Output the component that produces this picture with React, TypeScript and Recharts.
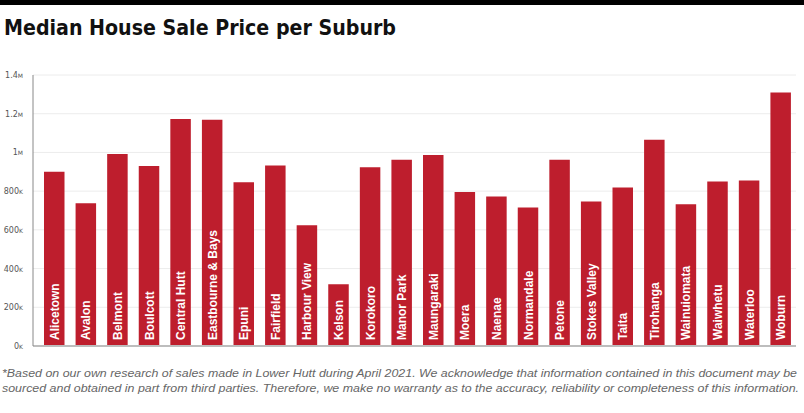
import React from 'react';
import { BarChart, Bar, XAxis, YAxis, CartesianGrid, LabelList } from 'recharts';

const suburbs = [
    'Alicetown', 'Avalon', 'Belmont', 'Boulcott', 'Central Hutt', 'Eastbourne & Bays',
    'Epuni', 'Fairfield', 'Harbour View', 'Kelson', 'Korokoro', 'Manor Park',
    'Maungaraki', 'Moera', 'Naenae', 'Normandale', 'Petone', 'Stokes Valley',
    'Taita', 'Tirohanga', 'Wainuiomata', 'Waiwhetu', 'Waterloo', 'Woburn',
];

const medianPrices = [
    900000, 737000, 992000, 930000, 1173000, 1169000,
    846000, 933000, 624000, 319000, 924000, 962000,
    987000, 796000, 772000, 716000, 962000, 747000,
    819000, 1065000, 732000, 850000, 855000, 1310000,
];

const yTicks = [0, 200000, 400000, 600000, 800000, 1000000, 1200000, 1400000];

const data = suburbs.map((name, i) => ({ name, price: medianPrices[i] }));

const BAR_RED = '#be1e2d';

const YTick = ({ x, y, payload }: any) => {
    const v = payload.value as number;
    const num = v >= 1000000 ? String(v / 1000000) : String(v / 1000);
    const unit = v >= 1000000 ? 'M' : 'K';
    return (
        <text x={x - 2} y={y + 3} textAnchor='end' fill='#555' fontFamily='"DejaVu Sans", sans-serif' fontSize={8}>
            {num}
            <tspan fontSize={6}>{unit}</tspan>
        </text>
    );
};

const BarName = ({ x, y, width, height, value }: any) => {
    const cx = x + width / 2 + 4.5;
    const by = y + height - 6;
    return (
        <text
            x={cx}
            y={by}
            transform={`rotate(-90 ${cx} ${by})`}
            fill='#fff'
            fontFamily='"Liberation Sans", Arial, sans-serif'
            fontWeight='bold'
            fontSize={12}
        >
            {value}
        </text>
    );
};

export default function App() {
    return (
        <div style={{ position: 'absolute', left: 0, top: 0, width: 804, height: 413, background: '#fff' }}>
            <BarChart width={804} height={413} data={data} margin={{ top: 75, right: 8, bottom: 66, left: 0 }} barSize={20.5}>
                <CartesianGrid vertical={false} stroke='#ececec' />
                <XAxis dataKey='name' tick={false} height={1} padding={{ left: 5, right: 0 }} axisLine={{ stroke: '#bdbdbd', strokeWidth: 2 }} tickLine={false} />
                <YAxis
                    width={33}
                    domain={[0, 1400000]}
                    ticks={yTicks}
                    tick={<YTick />}
                    tickLine={false}
                    axisLine={{ stroke: '#888' }}
                />
                <Bar dataKey='price' fill={BAR_RED} isAnimationActive={false}>
                    <LabelList dataKey='name' content={<BarName />} />
                </Bar>
            </BarChart>
            <svg width={804} height={413} style={{ position: 'absolute', left: 0, top: 0, pointerEvents: 'none' }}>
                <rect x={0} y={0} width={804} height={5} fill='#000' />
                <text
                    x={4}
                    y={35}
                    textLength={392}
                    lengthAdjust='spacingAndGlyphs'
                    fontFamily='"DejaVu Sans Condensed", "DejaVu Sans", sans-serif'
                    fontWeight='bold'
                    fontSize={21}
                    fill='#111'
                >
                    Median House Sale Price per Suburb
                </text>
                <text
                    x={2}
                    y={377}
                    textLength={795}
                    lengthAdjust='spacingAndGlyphs'
                    fontFamily='"Liberation Sans", Arial, sans-serif'
                    fontStyle='italic'
                    fontSize={11.5}
                    fill='#666'
                >
                    *Based on our own research of sales made in Lower Hutt during April 2021. We acknowledge that information contained in this document may be
                </text>
                <text
                    x={2}
                    y={392}
                    textLength={797}
                    lengthAdjust='spacingAndGlyphs'
                    fontFamily='"Liberation Sans", Arial, sans-serif'
                    fontStyle='italic'
                    fontSize={11.5}
                    fill='#666'
                >
                    sourced and obtained in part from third parties. Therefore, we make no warranty as to the accuracy, reliability or completeness of this information.
                </text>
            </svg>
        </div>
    );
}
